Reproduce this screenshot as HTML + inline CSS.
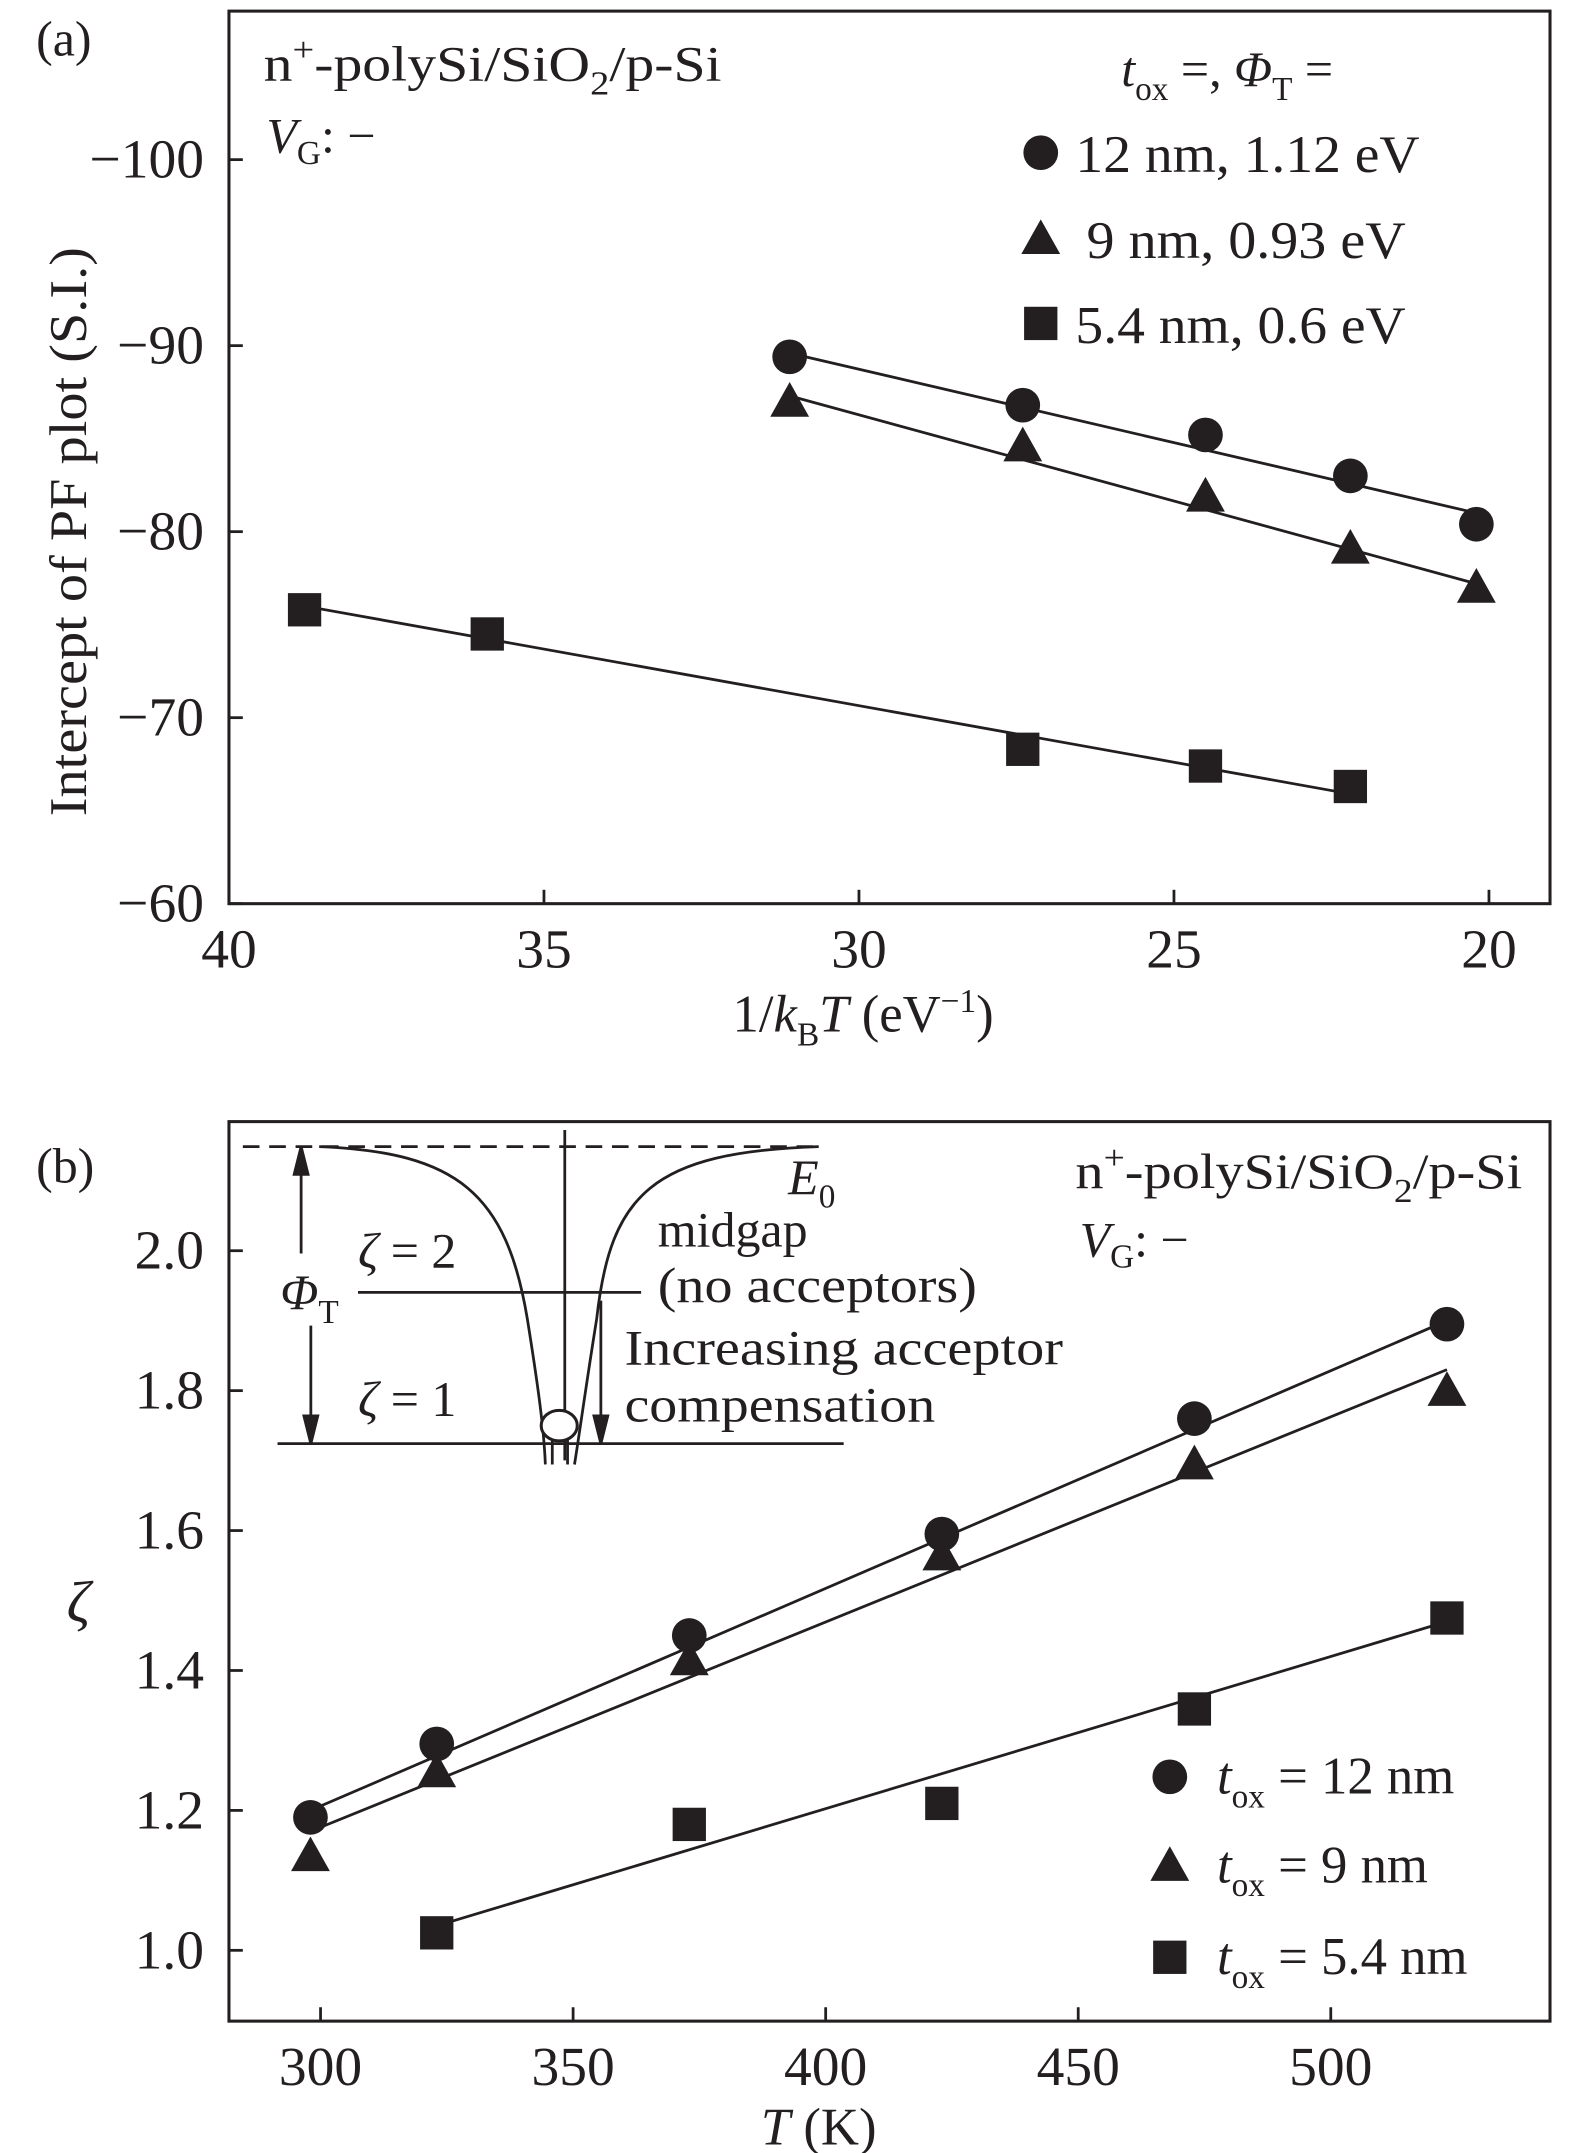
<!DOCTYPE html>
<html><head><meta charset="utf-8"><style>
html,body{margin:0;padding:0;background:#fff}
svg{display:block}
text{font-family:"Liberation Serif",serif;fill:#231f20}
</style></head><body>
<svg id="fig" width="1575" height="2153" viewBox="0 0 1135 1551" preserveAspectRatio="none" xmlns="http://www.w3.org/2000/svg">
<g id="pa"></g>
<g id="pb"></g>
</svg>
<script>
// Panel (a) data
const aX = [31.1, 27.4, 24.5, 22.2, 20.2];
const aCircle = [-89.4, -86.8, -85.2, -83.0, -80.4];
const aTri = [-87.0, -84.6, -81.9, -79.1, -77.0];
const aSqX = [38.8, 35.9, 27.4, 24.5, 22.2];
const aSq = [-75.8, -74.5, -68.3, -67.4, -66.3];
const aFitCircle = [[31.1, -89.6], [20.2, -81.0]];
const aFitTri = [[31.1, -87.3], [20.2, -77.2]];
const aFitSq = [[38.8, -76.0], [22.2, -65.9]];
const aXTicks = [40, 35, 30, 25, 20];
const aYTicks = [-100, -90, -80, -70, -60];
// Panel (b) data
const bX = [298, 323, 373, 423, 473, 523];
const bCircle = [1.19, 1.295, 1.45, 1.595, 1.76, 1.895];
const bTri = [1.135, 1.255, 1.415, 1.565, 1.695, 1.80];
const bSqX = [323, 373, 423, 473, 523];
const bSq = [1.025, 1.18, 1.21, 1.345, 1.475];
const bFitCircle = [[298, 1.2], [523, 1.9]];
const bFitTri = [[298, 1.17], [523, 1.83]];
const bFitSq = [[323, 1.035], [523, 1.47]];
const bXTicks = [300, 350, 400, 450, 500];
const bYTicks = [1.0, 1.2, 1.4, 1.6, 1.8, 2.0];

const NS = "http://www.w3.org/2000/svg";
function mk(parent, tag, attrs, txt) {
  const e = document.createElementNS(NS, tag);
  for (const k in attrs) e.setAttribute(k, attrs[k]);
  if (txt !== undefined) e.textContent = txt;
  parent.appendChild(e);
  return e;
}
function lin(d0, d1, r0, r1) { return v => r0 + (v - d0) * (r1 - r0) / (d1 - d0); }
function marker(g, type, x, y) {
  let e;
  if (type === 'c') e = mk(g, 'circle', {cx: x, cy: y, r: 12.5, fill: '#231f20'});
  else if (type === 't') e = mk(g, 'polygon', {points: `${x},${y-14} ${x+14},${y+11} ${x-14},${y+11}`, fill: '#231f20'});
  else e = mk(g, 'rect', {x: x - 12, y: y - 12, width: 24, height: 24, fill: '#231f20'});
  return e;
}
function frame(g, L, R, T, B) {
  const f = mk(g, 'rect', {x: L, y: T, width: R - L, height: B - T, fill: 'none', stroke: '#231f20', 'stroke-width': 2.2});
  
  
}
function fit(g, pts, sx, sy, name) {
  const l = mk(g, 'line', {x1: sx(pts[0][0]), y1: sy(pts[0][1]), x2: sx(pts[1][0]), y2: sy(pts[1][1]), stroke: '#231f20', 'stroke-width': 2});
  
  
}
function series(g, xs, ys, sx, sy, type, name) {
  xs.forEach((x, i) => {
    const m = marker(g, type, sx(x), sy(ys[i]));
    
    
  });
}

// ---------- Panel (a)
(function () {
  const g = document.getElementById('pa');
  const L = 165, R = 1117, T = 8, B = 651;
  const sx = lin(40, 20, 165, 1073);
  const sy = lin(-100, -60, 115, 651);
  frame(g, L, R, T, B);
  aXTicks.forEach(v => {
    const t = mk(g, 'line', {x1: sx(v), x2: sx(v), y1: B, y2: B - 10, stroke: '#231f20', 'stroke-width': 2});
    
    
    const l = mk(g, 'text', {x: sx(v), y: B + 46, 'font-size': 40, 'text-anchor': 'middle'}, String(v));
    
    
  });
  aYTicks.forEach(v => {
    const t = mk(g, 'line', {x1: L, x2: L + 10, y1: sy(v), y2: sy(v), stroke: '#231f20', 'stroke-width': 2});
    
    
    const l = mk(g, 'text', {x: L - 18, y: sy(v) + 13, 'font-size': 40, 'text-anchor': 'end'}, '\u2212' + Math.abs(v));
    
    
  });
  fit(g, aFitCircle, sx, sy, 'fit-line-12nm');
  fit(g, aFitTri, sx, sy, 'fit-line-9nm');
  fit(g, aFitSq, sx, sy, 'fit-line-5.4nm');
  series(g, aX, aCircle, sx, sy, 'c', 'point-12nm');
  series(g, aX, aTri, sx, sy, 't', 'point-9nm');
  series(g, aSqX, aSq, sx, sy, 's', 'point-5.4nm');
  marker(g, 'c', 750, 110); marker(g, 't', 750, 172); marker(g, 's', 750, 233);
})();

// ---------- Panel (b)
(function () {
  const g = document.getElementById('pb');
  const L = 165, R = 1117, T = 808, B = 1456;
  const sx = lin(300, 500, 231, 959);
  const sy = lin(1.0, 2.0, 1405, 901);
  frame(g, L, R, T, B);
  bXTicks.forEach(v => {
    const t = mk(g, 'line', {x1: sx(v), x2: sx(v), y1: B, y2: B - 10, stroke: '#231f20', 'stroke-width': 2});
    
    
    const l = mk(g, 'text', {x: sx(v), y: B + 46, 'font-size': 40, 'text-anchor': 'middle'}, String(v));
    
    
  });
  bYTicks.forEach(v => {
    const t = mk(g, 'line', {x1: L, x2: L + 10, y1: sy(v), y2: sy(v), stroke: '#231f20', 'stroke-width': 2});
    
    
    const l = mk(g, 'text', {x: L - 18, y: sy(v) + 13, 'font-size': 40, 'text-anchor': 'end'}, v.toFixed(1));
    
    
  });
  fit(g, bFitCircle, sx, sy, 'fit-line-12nm');
  fit(g, bFitTri, sx, sy, 'fit-line-9nm');
  fit(g, bFitSq, sx, sy, 'fit-line-5.4nm');
  series(g, bX, bCircle, sx, sy, 'c', 'point-12nm');
  series(g, bX, bTri, sx, sy, 't', 'point-9nm');
  series(g, bSqX, bSq, sx, sy, 's', 'point-5.4nm');
  marker(g, 'c', 843, 1280); marker(g, 't', 843, 1344); marker(g, 's', 843, 1410);
})();
</script>
<div style="position:absolute;left:0;top:0;width:1575px;height:2153px;pointer-events:none">
<svg width="1575" height="2153" viewBox="0 0 1135 1551" preserveAspectRatio="none">
<g style="font-family:'Liberation Serif',serif;fill:#231f20">
<text x="26" y="40" font-size="36">(a)</text>
<text x="190" y="58" font-size="36" textLength="330" lengthAdjust="spacingAndGlyphs">n<tspan font-size="24" dy="-14">+</tspan><tspan dy="14">-polySi/SiO</tspan><tspan font-size="24" dy="10">2</tspan><tspan dy="-10">/p-Si</tspan></text>
<text x="192" y="110" font-size="36"><tspan font-style="italic">V</tspan><tspan font-size="24" dy="8">G</tspan><tspan dy="-8">: −</tspan></text>
<text x="808" y="62" font-size="36"><tspan font-style="italic">t</tspan><tspan font-size="24" dy="10">ox</tspan><tspan dy="-10"> =, </tspan><tspan font-style="italic">Φ</tspan><tspan font-size="24" dy="10">T</tspan><tspan dy="-10"> =</tspan></text>
<text x="775" y="124" font-size="38" textLength="248" lengthAdjust="spacingAndGlyphs">12 nm, 1.12 eV</text>
<text x="783" y="186" font-size="38" textLength="230" lengthAdjust="spacingAndGlyphs">9 nm, 0.93 eV</text>
<text x="775" y="247" font-size="38" textLength="238" lengthAdjust="spacingAndGlyphs">5.4 nm, 0.6 eV</text>
<text transform="translate(62,383) rotate(-90)" font-size="38" text-anchor="middle" textLength="410" lengthAdjust="spacingAndGlyphs">Intercept of PF plot (S.I.)</text>
<text x="622" y="743" font-size="38" text-anchor="middle">1/<tspan font-style="italic">k</tspan><tspan font-size="24" dy="10">B</tspan><tspan dy="-10" font-style="italic">T</tspan> (eV<tspan font-size="24" dy="-14">−1</tspan><tspan dy="14">)</tspan></text>
</g>
<g style="font-family:'Liberation Serif',serif;fill:#231f20">
<text x="26" y="852" font-size="36">(b)</text>
<text x="775" y="856" font-size="36" textLength="322" lengthAdjust="spacingAndGlyphs">n<tspan font-size="24" dy="-14">+</tspan><tspan dy="14">-polySi/SiO</tspan><tspan font-size="24" dy="10">2</tspan><tspan dy="-10">/p-Si</tspan></text>
<text x="778" y="905" font-size="36"><tspan font-style="italic">V</tspan><tspan font-size="24" dy="8">G</tspan><tspan dy="-8">: −</tspan></text>
<text x="877" y="1292" font-size="38"><tspan font-style="italic">t</tspan><tspan font-size="24" dy="10">ox</tspan><tspan dy="-10"> = 12 nm</tspan></text>
<text x="877" y="1356" font-size="38"><tspan font-style="italic">t</tspan><tspan font-size="24" dy="10">ox</tspan><tspan dy="-10"> = 9 nm</tspan></text>
<text x="877" y="1422" font-size="38"><tspan font-style="italic">t</tspan><tspan font-size="24" dy="10">ox</tspan><tspan dy="-10"> = 5.4 nm</tspan></text>
<text x="48" y="1168" font-size="42" font-style="italic">ζ</text>
<text x="590" y="1545" font-size="38" text-anchor="middle"><tspan font-style="italic">T</tspan> (K)</text>
</g>
<g stroke="#231f20" fill="none" stroke-width="2">
<line x1="175" y1="826" x2="590" y2="826" stroke-dasharray="12,7"/>
<line x1="407" y1="814" x2="407" y2="1052"/>
<path d="M230,826 C330,830 365,860 380,950 C388,1000 392,1030 393,1055"/>
<path d="M590,826 C470,830 440,860 430,950 C422,1000 418,1030 414,1055"/>
<line x1="398" y1="1035" x2="398" y2="1055"/>
<line x1="409" y1="1035" x2="409" y2="1055"/>
<line x1="258" y1="931" x2="462" y2="931"/>
<line x1="200" y1="1040" x2="608" y2="1040"/>
<line x1="217" y1="903" x2="217" y2="832"/>
<polygon points="217,826 212,846 222,846" fill="#231f20"/>
<line x1="224" y1="955" x2="224" y2="1034"/>
<polygon points="224,1040 219,1020 229,1020" fill="#231f20"/>
<line x1="433" y1="937" x2="433" y2="1034"/>
<polygon points="433,1040 428,1020 438,1020" fill="#231f20"/>
<ellipse cx="403" cy="1027" rx="13" ry="11" fill="#fff" stroke-width="2.2"/>
</g>
<g style="font-family:'Liberation Serif',serif;fill:#231f20">
<text x="568" y="860" font-size="36" font-style="italic">E<tspan font-size="24" dy="10" font-style="normal">0</tspan></text>
<text x="474" y="898" font-size="36">midgap</text>
<text x="474" y="938" font-size="36" textLength="230" lengthAdjust="spacingAndGlyphs">(no acceptors)</text>
<text x="450" y="983" font-size="36" textLength="316" lengthAdjust="spacingAndGlyphs">Increasing acceptor</text>
<text x="450" y="1024" font-size="36" textLength="224" lengthAdjust="spacingAndGlyphs">compensation</text>
<text x="258" y="913" font-size="36"><tspan font-style="italic">ζ</tspan> = 2</text>
<text x="258" y="1020" font-size="36"><tspan font-style="italic">ζ</tspan> = 1</text>
<text x="202" y="943" font-size="36" font-style="italic">Φ<tspan font-size="24" dy="10" font-style="normal">T</tspan></text>
</g>
</svg>
</div>
</body></html>
